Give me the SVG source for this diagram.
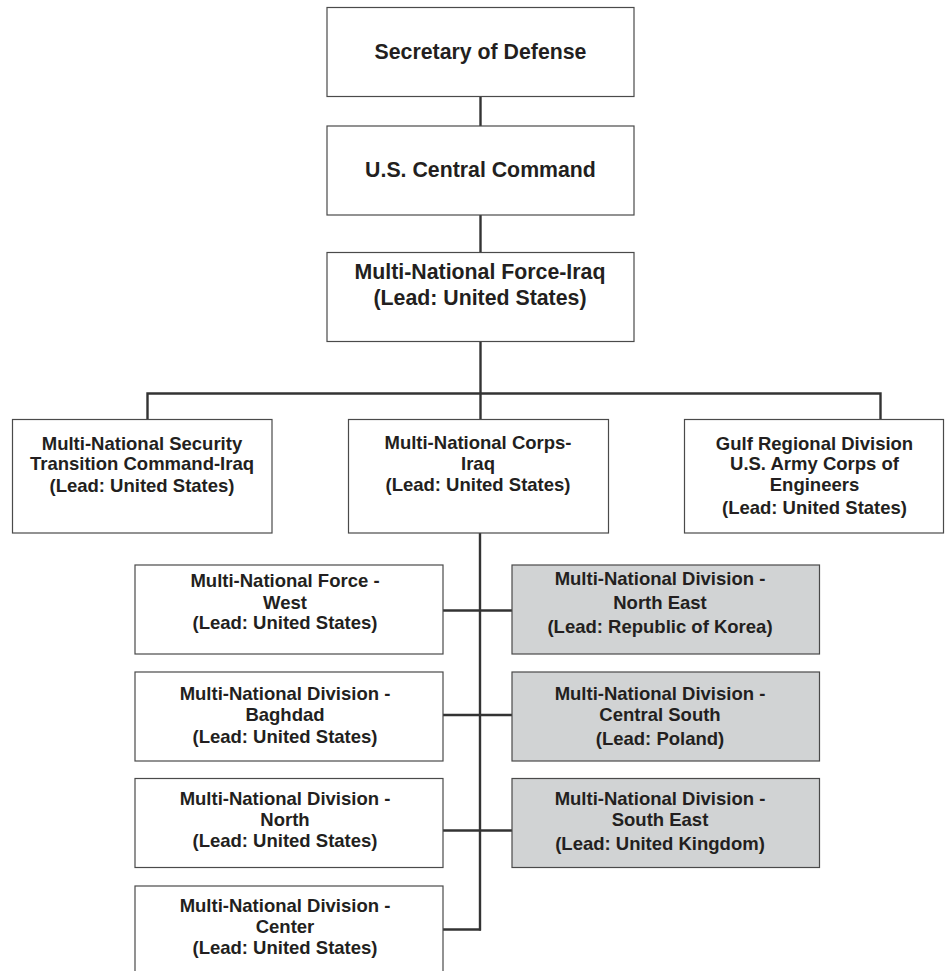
<svg xmlns="http://www.w3.org/2000/svg" width="951" height="971" viewBox="0 0 951 971">
<style>
.box{fill:#ffffff;stroke:#4a4a4a;stroke-width:1.2}
.grey{fill:#d1d3d4;stroke:#4a4a4a;stroke-width:1.2}
.t1{font-family:"Liberation Sans",Arial,sans-serif;font-weight:bold;font-size:21.3px;fill:#231f20;text-anchor:middle}
.t2{font-family:"Liberation Sans",Arial,sans-serif;font-weight:bold;font-size:18.5px;fill:#231f20;text-anchor:middle}
.ln{fill:none;stroke:#333333;stroke-width:2.4}
</style>
<rect width="951" height="971" fill="#ffffff"/>
<g id="connectors">
<line class="ln" x1="480.5" y1="97" x2="480.5" y2="126"/>
<line class="ln" x1="480.5" y1="215" x2="480.5" y2="253"/>
<line class="ln" x1="480.5" y1="342" x2="480.5" y2="419"/>
<polyline class="ln" points="147.5,419.5 147.5,393.5 880.5,393.5 880.5,419.5"/>
<line class="ln" x1="480" y1="533" x2="480" y2="930.5"/>
<line class="ln" x1="443" y1="610.5" x2="512" y2="610.5"/>
<line class="ln" x1="443" y1="715" x2="512" y2="715"/>
<line class="ln" x1="443" y1="830.5" x2="512" y2="830.5"/>
<line class="ln" x1="443" y1="929.5" x2="481" y2="929.5"/>
</g>
<g id="secdef">
<rect class="box" x="327" y="7.5" width="307" height="89"/>
<text class="t1" x="480.5" y="59">Secretary of Defense</text>
</g>
<g id="centcom">
<rect class="box" x="327" y="126" width="307" height="89"/>
<text class="t1" x="480.5" y="177">U.S. Central Command</text>
</g>
<g id="mnfi">
<rect class="box" x="327" y="252.5" width="307" height="89"/>
<text class="t1" x="480" y="278.5">Multi-National Force-Iraq</text>
<text class="t1" x="480" y="305">(Lead: United States)</text>
</g>
<g id="mnstci">
<rect class="box" x="12.5" y="419.5" width="259.5" height="113.5"/>
<text class="t2" x="142" y="450">Multi-National Security</text>
<text class="t2" x="142" y="469.5">Transition Command-Iraq</text>
<text class="t2" x="142" y="491.5">(Lead: United States)</text>
</g>
<g id="mnci">
<rect class="box" x="348.5" y="419.5" width="260" height="113.5"/>
<text class="t2" x="478" y="449">Multi-National Corps-</text>
<text class="t2" x="478" y="470">Iraq</text>
<text class="t2" x="478" y="491">(Lead: United States)</text>
</g>
<g id="grd">
<rect class="box" x="684.5" y="419.5" width="259" height="113.5"/>
<text class="t2" x="814.5" y="449.5">Gulf Regional Division</text>
<text class="t2" x="814.5" y="470">U.S. Army Corps of</text>
<text class="t2" x="814.5" y="491">Engineers</text>
<text class="t2" x="814.5" y="513.5">(Lead: United States)</text>
</g>
<g id="mnfw">
<rect class="box" x="135" y="565" width="308" height="89"/>
<text class="t2" x="285" y="586.5">Multi-National Force -</text>
<text class="t2" x="285" y="608.5">West</text>
<text class="t2" x="285" y="629">(Lead: United States)</text>
</g>
<g id="mndne">
<rect class="grey" x="512" y="565" width="307.5" height="89"/>
<text class="t2" x="660" y="584.5">Multi-National Division -</text>
<text class="t2" x="660" y="608.5">North East</text>
<text class="t2" x="660" y="632.5">(Lead: Republic of Korea)</text>
</g>
<g id="mndb">
<rect class="box" x="135" y="672" width="308" height="89"/>
<text class="t2" x="285" y="700">Multi-National Division -</text>
<text class="t2" x="285" y="721">Baghdad</text>
<text class="t2" x="285" y="743">(Lead: United States)</text>
</g>
<g id="mndcs">
<rect class="grey" x="512" y="672" width="307.5" height="89"/>
<text class="t2" x="660" y="700">Multi-National Division -</text>
<text class="t2" x="660" y="721">Central South</text>
<text class="t2" x="660" y="745">(Lead: Poland)</text>
</g>
<g id="mndn">
<rect class="box" x="135" y="778.5" width="308" height="89"/>
<text class="t2" x="285" y="804.5">Multi-National Division -</text>
<text class="t2" x="285" y="826">North</text>
<text class="t2" x="285" y="847">(Lead: United States)</text>
</g>
<g id="mndse">
<rect class="grey" x="512" y="778.5" width="307.5" height="89"/>
<text class="t2" x="660" y="804.5">Multi-National Division -</text>
<text class="t2" x="660" y="826">South East</text>
<text class="t2" x="660" y="850">(Lead: United Kingdom)</text>
</g>
<g id="mndc">
<rect class="box" x="135" y="886" width="308" height="89"/>
<text class="t2" x="285" y="911.5">Multi-National Division -</text>
<text class="t2" x="285" y="933">Center</text>
<text class="t2" x="285" y="954">(Lead: United States)</text>
</g>
</svg>
